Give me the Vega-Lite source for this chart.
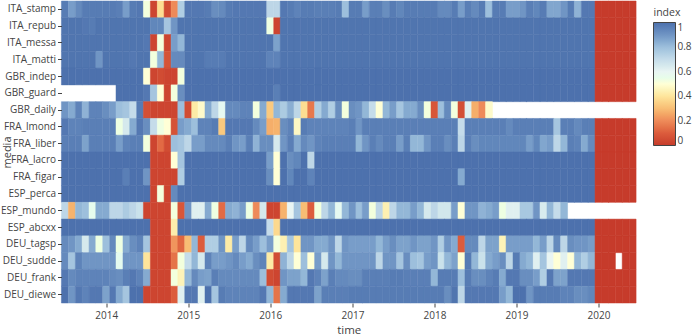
{"$schema":"https://vega.github.io/schema/vega-lite/v6.json","width":574.5,"height":302,"autosize":{"type":"none"},"padding":{"left":61.5,"top":1,"right":58,"bottom":33},"background":"white","config":{"view":{"stroke":null},"font":"Open Sans"},"data":{"values":[
{"media":"ITA_stamp","time":"2013-07","index":0.97},{"media":"ITA_stamp","time":"2013-08","index":0.88},{"media":"ITA_stamp","time":"2013-09","index":0.93},{"media":"ITA_stamp","time":"2013-10","index":0.97},{"media":"ITA_stamp","time":"2013-11","index":0.97},{"media":"ITA_stamp","time":"2013-12","index":0.97},{"media":"ITA_stamp","time":"2014-01","index":0.97},{"media":"ITA_stamp","time":"2014-02","index":0.97},{"media":"ITA_stamp","time":"2014-03","index":0.96},{"media":"ITA_stamp","time":"2014-04","index":0.88},{"media":"ITA_stamp","time":"2014-05","index":0.97},{"media":"ITA_stamp","time":"2014-06","index":0.98},{"media":"ITA_stamp","time":"2014-07","index":0.52},{"media":"ITA_stamp","time":"2014-08","index":0.03},{"media":"ITA_stamp","time":"2014-09","index":0.38},{"media":"ITA_stamp","time":"2014-10","index":0.05},{"media":"ITA_stamp","time":"2014-11","index":0.2},{"media":"ITA_stamp","time":"2014-12","index":0.75},{"media":"ITA_stamp","time":"2015-01","index":0.98},{"media":"ITA_stamp","time":"2015-02","index":0.98},{"media":"ITA_stamp","time":"2015-03","index":0.98},{"media":"ITA_stamp","time":"2015-04","index":0.97},{"media":"ITA_stamp","time":"2015-05","index":0.92},{"media":"ITA_stamp","time":"2015-06","index":0.93},{"media":"ITA_stamp","time":"2015-07","index":0.97},{"media":"ITA_stamp","time":"2015-08","index":0.98},{"media":"ITA_stamp","time":"2015-09","index":0.98},{"media":"ITA_stamp","time":"2015-10","index":0.98},{"media":"ITA_stamp","time":"2015-11","index":0.98},{"media":"ITA_stamp","time":"2015-12","index":0.98},{"media":"ITA_stamp","time":"2016-01","index":0.72},{"media":"ITA_stamp","time":"2016-02","index":0.72},{"media":"ITA_stamp","time":"2016-03","index":0.98},{"media":"ITA_stamp","time":"2016-04","index":0.97},{"media":"ITA_stamp","time":"2016-05","index":0.95},{"media":"ITA_stamp","time":"2016-06","index":0.97},{"media":"ITA_stamp","time":"2016-07","index":0.97},{"media":"ITA_stamp","time":"2016-08","index":0.96},{"media":"ITA_stamp","time":"2016-09","index":0.96},{"media":"ITA_stamp","time":"2016-10","index":0.96},{"media":"ITA_stamp","time":"2016-11","index":0.97},{"media":"ITA_stamp","time":"2016-12","index":0.8},{"media":"ITA_stamp","time":"2017-01","index":0.97},{"media":"ITA_stamp","time":"2017-02","index":0.97},{"media":"ITA_stamp","time":"2017-03","index":0.88},{"media":"ITA_stamp","time":"2017-04","index":0.96},{"media":"ITA_stamp","time":"2017-05","index":0.96},{"media":"ITA_stamp","time":"2017-06","index":0.92},{"media":"ITA_stamp","time":"2017-07","index":0.97},{"media":"ITA_stamp","time":"2017-08","index":0.94},{"media":"ITA_stamp","time":"2017-09","index":0.97},{"media":"ITA_stamp","time":"2017-10","index":0.97},{"media":"ITA_stamp","time":"2017-11","index":0.97},{"media":"ITA_stamp","time":"2017-12","index":0.97},{"media":"ITA_stamp","time":"2018-01","index":0.97},{"media":"ITA_stamp","time":"2018-02","index":0.93},{"media":"ITA_stamp","time":"2018-03","index":0.93},{"media":"ITA_stamp","time":"2018-04","index":0.97},{"media":"ITA_stamp","time":"2018-05","index":0.88},{"media":"ITA_stamp","time":"2018-06","index":0.96},{"media":"ITA_stamp","time":"2018-07","index":0.93},{"media":"ITA_stamp","time":"2018-08","index":0.97},{"media":"ITA_stamp","time":"2018-09","index":0.8},{"media":"ITA_stamp","time":"2018-10","index":0.97},{"media":"ITA_stamp","time":"2018-11","index":0.97},{"media":"ITA_stamp","time":"2018-12","index":0.88},{"media":"ITA_stamp","time":"2019-01","index":0.88},{"media":"ITA_stamp","time":"2019-02","index":0.9},{"media":"ITA_stamp","time":"2019-03","index":0.96},{"media":"ITA_stamp","time":"2019-04","index":0.94},{"media":"ITA_stamp","time":"2019-05","index":0.97},{"media":"ITA_stamp","time":"2019-06","index":0.86},{"media":"ITA_stamp","time":"2019-07","index":0.86},{"media":"ITA_stamp","time":"2019-08","index":0.9},{"media":"ITA_stamp","time":"2019-09","index":0.97},{"media":"ITA_stamp","time":"2019-10","index":0.83},{"media":"ITA_stamp","time":"2019-11","index":0.98},{"media":"ITA_stamp","time":"2019-12","index":0.98},{"media":"ITA_stamp","time":"2020-01","index":0},{"media":"ITA_stamp","time":"2020-02","index":0},{"media":"ITA_stamp","time":"2020-03","index":0},{"media":"ITA_stamp","time":"2020-04","index":0},{"media":"ITA_stamp","time":"2020-05","index":0},{"media":"ITA_stamp","time":"2020-06","index":0},
{"media":"ITA_repub","time":"2013-07","index":0.99},{"media":"ITA_repub","time":"2013-08","index":0.99},{"media":"ITA_repub","time":"2013-09","index":0.99},{"media":"ITA_repub","time":"2013-10","index":0.98},{"media":"ITA_repub","time":"2013-11","index":0.97},{"media":"ITA_repub","time":"2013-12","index":0.99},{"media":"ITA_repub","time":"2014-01","index":0.99},{"media":"ITA_repub","time":"2014-02","index":0.99},{"media":"ITA_repub","time":"2014-03","index":0.99},{"media":"ITA_repub","time":"2014-04","index":0.99},{"media":"ITA_repub","time":"2014-05","index":0.99},{"media":"ITA_repub","time":"2014-06","index":0.99},{"media":"ITA_repub","time":"2014-07","index":0.99},{"media":"ITA_repub","time":"2014-08","index":0.94},{"media":"ITA_repub","time":"2014-09","index":0.94},{"media":"ITA_repub","time":"2014-10","index":0.78},{"media":"ITA_repub","time":"2014-11","index":0.9},{"media":"ITA_repub","time":"2014-12","index":0.99},{"media":"ITA_repub","time":"2015-01","index":0.99},{"media":"ITA_repub","time":"2015-02","index":0.99},{"media":"ITA_repub","time":"2015-03","index":0.99},{"media":"ITA_repub","time":"2015-04","index":0.99},{"media":"ITA_repub","time":"2015-05","index":0.99},{"media":"ITA_repub","time":"2015-06","index":0.99},{"media":"ITA_repub","time":"2015-07","index":0.99},{"media":"ITA_repub","time":"2015-08","index":0.99},{"media":"ITA_repub","time":"2015-09","index":0.99},{"media":"ITA_repub","time":"2015-10","index":0.99},{"media":"ITA_repub","time":"2015-11","index":0.99},{"media":"ITA_repub","time":"2015-12","index":0.99},{"media":"ITA_repub","time":"2016-01","index":0.53},{"media":"ITA_repub","time":"2016-02","index":0.03},{"media":"ITA_repub","time":"2016-03","index":0.99},{"media":"ITA_repub","time":"2016-04","index":0.99},{"media":"ITA_repub","time":"2016-05","index":0.99},{"media":"ITA_repub","time":"2016-06","index":0.99},{"media":"ITA_repub","time":"2016-07","index":0.99},{"media":"ITA_repub","time":"2016-08","index":0.99},{"media":"ITA_repub","time":"2016-09","index":0.99},{"media":"ITA_repub","time":"2016-10","index":0.99},{"media":"ITA_repub","time":"2016-11","index":0.99},{"media":"ITA_repub","time":"2016-12","index":0.99},{"media":"ITA_repub","time":"2017-01","index":0.99},{"media":"ITA_repub","time":"2017-02","index":0.99},{"media":"ITA_repub","time":"2017-03","index":0.99},{"media":"ITA_repub","time":"2017-04","index":0.99},{"media":"ITA_repub","time":"2017-05","index":0.99},{"media":"ITA_repub","time":"2017-06","index":0.99},{"media":"ITA_repub","time":"2017-07","index":0.99},{"media":"ITA_repub","time":"2017-08","index":0.99},{"media":"ITA_repub","time":"2017-09","index":0.99},{"media":"ITA_repub","time":"2017-10","index":0.99},{"media":"ITA_repub","time":"2017-11","index":0.99},{"media":"ITA_repub","time":"2017-12","index":0.99},{"media":"ITA_repub","time":"2018-01","index":0.99},{"media":"ITA_repub","time":"2018-02","index":0.99},{"media":"ITA_repub","time":"2018-03","index":0.99},{"media":"ITA_repub","time":"2018-04","index":0.99},{"media":"ITA_repub","time":"2018-05","index":0.99},{"media":"ITA_repub","time":"2018-06","index":0.99},{"media":"ITA_repub","time":"2018-07","index":0.99},{"media":"ITA_repub","time":"2018-08","index":0.99},{"media":"ITA_repub","time":"2018-09","index":0.99},{"media":"ITA_repub","time":"2018-10","index":0.99},{"media":"ITA_repub","time":"2018-11","index":0.99},{"media":"ITA_repub","time":"2018-12","index":0.99},{"media":"ITA_repub","time":"2019-01","index":0.99},{"media":"ITA_repub","time":"2019-02","index":0.99},{"media":"ITA_repub","time":"2019-03","index":0.99},{"media":"ITA_repub","time":"2019-04","index":0.99},{"media":"ITA_repub","time":"2019-05","index":0.99},{"media":"ITA_repub","time":"2019-06","index":0.99},{"media":"ITA_repub","time":"2019-07","index":0.99},{"media":"ITA_repub","time":"2019-08","index":0.99},{"media":"ITA_repub","time":"2019-09","index":0.99},{"media":"ITA_repub","time":"2019-10","index":0.99},{"media":"ITA_repub","time":"2019-11","index":0.99},{"media":"ITA_repub","time":"2019-12","index":0.99},{"media":"ITA_repub","time":"2020-01","index":0},{"media":"ITA_repub","time":"2020-02","index":0},{"media":"ITA_repub","time":"2020-03","index":0},{"media":"ITA_repub","time":"2020-04","index":0},{"media":"ITA_repub","time":"2020-05","index":0},{"media":"ITA_repub","time":"2020-06","index":0},
{"media":"ITA_messa","time":"2013-07","index":0.99},{"media":"ITA_messa","time":"2013-08","index":0.99},{"media":"ITA_messa","time":"2013-09","index":0.99},{"media":"ITA_messa","time":"2013-10","index":0.99},{"media":"ITA_messa","time":"2013-11","index":0.99},{"media":"ITA_messa","time":"2013-12","index":0.99},{"media":"ITA_messa","time":"2014-01","index":0.99},{"media":"ITA_messa","time":"2014-02","index":0.99},{"media":"ITA_messa","time":"2014-03","index":0.99},{"media":"ITA_messa","time":"2014-04","index":0.99},{"media":"ITA_messa","time":"2014-05","index":0.99},{"media":"ITA_messa","time":"2014-06","index":0.99},{"media":"ITA_messa","time":"2014-07","index":0.98},{"media":"ITA_messa","time":"2014-08","index":0.03},{"media":"ITA_messa","time":"2014-09","index":0.52},{"media":"ITA_messa","time":"2014-10","index":0.03},{"media":"ITA_messa","time":"2014-11","index":0.88},{"media":"ITA_messa","time":"2014-12","index":0.82},{"media":"ITA_messa","time":"2015-01","index":0.99},{"media":"ITA_messa","time":"2015-02","index":0.99},{"media":"ITA_messa","time":"2015-03","index":0.99},{"media":"ITA_messa","time":"2015-04","index":0.99},{"media":"ITA_messa","time":"2015-05","index":0.99},{"media":"ITA_messa","time":"2015-06","index":0.99},{"media":"ITA_messa","time":"2015-07","index":0.99},{"media":"ITA_messa","time":"2015-08","index":0.99},{"media":"ITA_messa","time":"2015-09","index":0.99},{"media":"ITA_messa","time":"2015-10","index":0.99},{"media":"ITA_messa","time":"2015-11","index":0.99},{"media":"ITA_messa","time":"2015-12","index":0.99},{"media":"ITA_messa","time":"2016-01","index":0.99},{"media":"ITA_messa","time":"2016-02","index":0.87},{"media":"ITA_messa","time":"2016-03","index":0.99},{"media":"ITA_messa","time":"2016-04","index":0.99},{"media":"ITA_messa","time":"2016-05","index":0.99},{"media":"ITA_messa","time":"2016-06","index":0.99},{"media":"ITA_messa","time":"2016-07","index":0.99},{"media":"ITA_messa","time":"2016-08","index":0.99},{"media":"ITA_messa","time":"2016-09","index":0.99},{"media":"ITA_messa","time":"2016-10","index":0.99},{"media":"ITA_messa","time":"2016-11","index":0.99},{"media":"ITA_messa","time":"2016-12","index":0.99},{"media":"ITA_messa","time":"2017-01","index":0.99},{"media":"ITA_messa","time":"2017-02","index":0.99},{"media":"ITA_messa","time":"2017-03","index":0.99},{"media":"ITA_messa","time":"2017-04","index":0.99},{"media":"ITA_messa","time":"2017-05","index":0.99},{"media":"ITA_messa","time":"2017-06","index":0.99},{"media":"ITA_messa","time":"2017-07","index":0.99},{"media":"ITA_messa","time":"2017-08","index":0.99},{"media":"ITA_messa","time":"2017-09","index":0.99},{"media":"ITA_messa","time":"2017-10","index":0.99},{"media":"ITA_messa","time":"2017-11","index":0.99},{"media":"ITA_messa","time":"2017-12","index":0.99},{"media":"ITA_messa","time":"2018-01","index":0.99},{"media":"ITA_messa","time":"2018-02","index":0.99},{"media":"ITA_messa","time":"2018-03","index":0.99},{"media":"ITA_messa","time":"2018-04","index":0.99},{"media":"ITA_messa","time":"2018-05","index":0.99},{"media":"ITA_messa","time":"2018-06","index":0.99},{"media":"ITA_messa","time":"2018-07","index":0.99},{"media":"ITA_messa","time":"2018-08","index":0.99},{"media":"ITA_messa","time":"2018-09","index":0.99},{"media":"ITA_messa","time":"2018-10","index":0.99},{"media":"ITA_messa","time":"2018-11","index":0.99},{"media":"ITA_messa","time":"2018-12","index":0.99},{"media":"ITA_messa","time":"2019-01","index":0.99},{"media":"ITA_messa","time":"2019-02","index":0.99},{"media":"ITA_messa","time":"2019-03","index":0.99},{"media":"ITA_messa","time":"2019-04","index":0.99},{"media":"ITA_messa","time":"2019-05","index":0.99},{"media":"ITA_messa","time":"2019-06","index":0.99},{"media":"ITA_messa","time":"2019-07","index":0.99},{"media":"ITA_messa","time":"2019-08","index":0.99},{"media":"ITA_messa","time":"2019-09","index":0.99},{"media":"ITA_messa","time":"2019-10","index":0.99},{"media":"ITA_messa","time":"2019-11","index":0.99},{"media":"ITA_messa","time":"2019-12","index":0.99},{"media":"ITA_messa","time":"2020-01","index":0},{"media":"ITA_messa","time":"2020-02","index":0},{"media":"ITA_messa","time":"2020-03","index":0},{"media":"ITA_messa","time":"2020-04","index":0},{"media":"ITA_messa","time":"2020-05","index":0},{"media":"ITA_messa","time":"2020-06","index":0},
{"media":"ITA_matti","time":"2013-07","index":0.99},{"media":"ITA_matti","time":"2013-08","index":0.99},{"media":"ITA_matti","time":"2013-09","index":0.99},{"media":"ITA_matti","time":"2013-10","index":0.99},{"media":"ITA_matti","time":"2013-11","index":0.99},{"media":"ITA_matti","time":"2013-12","index":0.9},{"media":"ITA_matti","time":"2014-01","index":0.99},{"media":"ITA_matti","time":"2014-02","index":0.99},{"media":"ITA_matti","time":"2014-03","index":0.99},{"media":"ITA_matti","time":"2014-04","index":0.99},{"media":"ITA_matti","time":"2014-05","index":0.98},{"media":"ITA_matti","time":"2014-06","index":0.99},{"media":"ITA_matti","time":"2014-07","index":0.99},{"media":"ITA_matti","time":"2014-08","index":0.52},{"media":"ITA_matti","time":"2014-09","index":0.82},{"media":"ITA_matti","time":"2014-10","index":0.07},{"media":"ITA_matti","time":"2014-11","index":0.93},{"media":"ITA_matti","time":"2014-12","index":0.93},{"media":"ITA_matti","time":"2015-01","index":0.99},{"media":"ITA_matti","time":"2015-02","index":0.99},{"media":"ITA_matti","time":"2015-03","index":0.99},{"media":"ITA_matti","time":"2015-04","index":0.97},{"media":"ITA_matti","time":"2015-05","index":0.97},{"media":"ITA_matti","time":"2015-06","index":0.97},{"media":"ITA_matti","time":"2015-07","index":0.99},{"media":"ITA_matti","time":"2015-08","index":0.99},{"media":"ITA_matti","time":"2015-09","index":0.99},{"media":"ITA_matti","time":"2015-10","index":0.99},{"media":"ITA_matti","time":"2015-11","index":0.99},{"media":"ITA_matti","time":"2015-12","index":0.99},{"media":"ITA_matti","time":"2016-01","index":0.95},{"media":"ITA_matti","time":"2016-02","index":0.95},{"media":"ITA_matti","time":"2016-03","index":0.99},{"media":"ITA_matti","time":"2016-04","index":0.99},{"media":"ITA_matti","time":"2016-05","index":0.99},{"media":"ITA_matti","time":"2016-06","index":0.99},{"media":"ITA_matti","time":"2016-07","index":0.99},{"media":"ITA_matti","time":"2016-08","index":0.99},{"media":"ITA_matti","time":"2016-09","index":0.99},{"media":"ITA_matti","time":"2016-10","index":0.99},{"media":"ITA_matti","time":"2016-11","index":0.99},{"media":"ITA_matti","time":"2016-12","index":0.99},{"media":"ITA_matti","time":"2017-01","index":0.99},{"media":"ITA_matti","time":"2017-02","index":0.99},{"media":"ITA_matti","time":"2017-03","index":0.99},{"media":"ITA_matti","time":"2017-04","index":0.99},{"media":"ITA_matti","time":"2017-05","index":0.99},{"media":"ITA_matti","time":"2017-06","index":0.99},{"media":"ITA_matti","time":"2017-07","index":0.99},{"media":"ITA_matti","time":"2017-08","index":0.99},{"media":"ITA_matti","time":"2017-09","index":0.99},{"media":"ITA_matti","time":"2017-10","index":0.99},{"media":"ITA_matti","time":"2017-11","index":0.99},{"media":"ITA_matti","time":"2017-12","index":0.99},{"media":"ITA_matti","time":"2018-01","index":0.99},{"media":"ITA_matti","time":"2018-02","index":0.99},{"media":"ITA_matti","time":"2018-03","index":0.99},{"media":"ITA_matti","time":"2018-04","index":0.99},{"media":"ITA_matti","time":"2018-05","index":0.99},{"media":"ITA_matti","time":"2018-06","index":0.99},{"media":"ITA_matti","time":"2018-07","index":0.99},{"media":"ITA_matti","time":"2018-08","index":0.99},{"media":"ITA_matti","time":"2018-09","index":0.99},{"media":"ITA_matti","time":"2018-10","index":0.99},{"media":"ITA_matti","time":"2018-11","index":0.99},{"media":"ITA_matti","time":"2018-12","index":0.99},{"media":"ITA_matti","time":"2019-01","index":0.99},{"media":"ITA_matti","time":"2019-02","index":0.99},{"media":"ITA_matti","time":"2019-03","index":0.99},{"media":"ITA_matti","time":"2019-04","index":0.99},{"media":"ITA_matti","time":"2019-05","index":0.99},{"media":"ITA_matti","time":"2019-06","index":0.99},{"media":"ITA_matti","time":"2019-07","index":0.99},{"media":"ITA_matti","time":"2019-08","index":0.99},{"media":"ITA_matti","time":"2019-09","index":0.99},{"media":"ITA_matti","time":"2019-10","index":0.99},{"media":"ITA_matti","time":"2019-11","index":0.99},{"media":"ITA_matti","time":"2019-12","index":0.99},{"media":"ITA_matti","time":"2020-01","index":0},{"media":"ITA_matti","time":"2020-02","index":0},{"media":"ITA_matti","time":"2020-03","index":0},{"media":"ITA_matti","time":"2020-04","index":0},{"media":"ITA_matti","time":"2020-05","index":0},{"media":"ITA_matti","time":"2020-06","index":0},
{"media":"GBR_indep","time":"2013-07","index":1},{"media":"GBR_indep","time":"2013-08","index":1},{"media":"GBR_indep","time":"2013-09","index":1},{"media":"GBR_indep","time":"2013-10","index":1},{"media":"GBR_indep","time":"2013-11","index":1},{"media":"GBR_indep","time":"2013-12","index":1},{"media":"GBR_indep","time":"2014-01","index":1},{"media":"GBR_indep","time":"2014-02","index":1},{"media":"GBR_indep","time":"2014-03","index":1},{"media":"GBR_indep","time":"2014-04","index":1},{"media":"GBR_indep","time":"2014-05","index":1},{"media":"GBR_indep","time":"2014-06","index":1},{"media":"GBR_indep","time":"2014-07","index":0.5},{"media":"GBR_indep","time":"2014-08","index":0.03},{"media":"GBR_indep","time":"2014-09","index":0.05},{"media":"GBR_indep","time":"2014-10","index":0.03},{"media":"GBR_indep","time":"2014-11","index":0.03},{"media":"GBR_indep","time":"2014-12","index":0.52},{"media":"GBR_indep","time":"2015-01","index":1},{"media":"GBR_indep","time":"2015-02","index":1},{"media":"GBR_indep","time":"2015-03","index":1},{"media":"GBR_indep","time":"2015-04","index":1},{"media":"GBR_indep","time":"2015-05","index":1},{"media":"GBR_indep","time":"2015-06","index":1},{"media":"GBR_indep","time":"2015-07","index":1},{"media":"GBR_indep","time":"2015-08","index":1},{"media":"GBR_indep","time":"2015-09","index":1},{"media":"GBR_indep","time":"2015-10","index":1},{"media":"GBR_indep","time":"2015-11","index":1},{"media":"GBR_indep","time":"2015-12","index":1},{"media":"GBR_indep","time":"2016-01","index":1},{"media":"GBR_indep","time":"2016-02","index":1},{"media":"GBR_indep","time":"2016-03","index":1},{"media":"GBR_indep","time":"2016-04","index":1},{"media":"GBR_indep","time":"2016-05","index":1},{"media":"GBR_indep","time":"2016-06","index":1},{"media":"GBR_indep","time":"2016-07","index":1},{"media":"GBR_indep","time":"2016-08","index":1},{"media":"GBR_indep","time":"2016-09","index":1},{"media":"GBR_indep","time":"2016-10","index":1},{"media":"GBR_indep","time":"2016-11","index":1},{"media":"GBR_indep","time":"2016-12","index":1},{"media":"GBR_indep","time":"2017-01","index":1},{"media":"GBR_indep","time":"2017-02","index":1},{"media":"GBR_indep","time":"2017-03","index":1},{"media":"GBR_indep","time":"2017-04","index":1},{"media":"GBR_indep","time":"2017-05","index":1},{"media":"GBR_indep","time":"2017-06","index":1},{"media":"GBR_indep","time":"2017-07","index":1},{"media":"GBR_indep","time":"2017-08","index":1},{"media":"GBR_indep","time":"2017-09","index":1},{"media":"GBR_indep","time":"2017-10","index":1},{"media":"GBR_indep","time":"2017-11","index":1},{"media":"GBR_indep","time":"2017-12","index":1},{"media":"GBR_indep","time":"2018-01","index":1},{"media":"GBR_indep","time":"2018-02","index":1},{"media":"GBR_indep","time":"2018-03","index":1},{"media":"GBR_indep","time":"2018-04","index":1},{"media":"GBR_indep","time":"2018-05","index":1},{"media":"GBR_indep","time":"2018-06","index":1},{"media":"GBR_indep","time":"2018-07","index":1},{"media":"GBR_indep","time":"2018-08","index":1},{"media":"GBR_indep","time":"2018-09","index":1},{"media":"GBR_indep","time":"2018-10","index":1},{"media":"GBR_indep","time":"2018-11","index":1},{"media":"GBR_indep","time":"2018-12","index":1},{"media":"GBR_indep","time":"2019-01","index":1},{"media":"GBR_indep","time":"2019-02","index":1},{"media":"GBR_indep","time":"2019-03","index":1},{"media":"GBR_indep","time":"2019-04","index":1},{"media":"GBR_indep","time":"2019-05","index":1},{"media":"GBR_indep","time":"2019-06","index":1},{"media":"GBR_indep","time":"2019-07","index":1},{"media":"GBR_indep","time":"2019-08","index":1},{"media":"GBR_indep","time":"2019-09","index":1},{"media":"GBR_indep","time":"2019-10","index":1},{"media":"GBR_indep","time":"2019-11","index":1},{"media":"GBR_indep","time":"2019-12","index":1},{"media":"GBR_indep","time":"2020-01","index":0},{"media":"GBR_indep","time":"2020-02","index":0},{"media":"GBR_indep","time":"2020-03","index":0},{"media":"GBR_indep","time":"2020-04","index":0},{"media":"GBR_indep","time":"2020-05","index":0},{"media":"GBR_indep","time":"2020-06","index":0},
{"media":"GBR_guard","time":"2014-03","index":1},{"media":"GBR_guard","time":"2014-04","index":1},{"media":"GBR_guard","time":"2014-05","index":1},{"media":"GBR_guard","time":"2014-06","index":1},{"media":"GBR_guard","time":"2014-07","index":0.98},{"media":"GBR_guard","time":"2014-08","index":0.78},{"media":"GBR_guard","time":"2014-09","index":0.5},{"media":"GBR_guard","time":"2014-10","index":0.03},{"media":"GBR_guard","time":"2014-11","index":0.52},{"media":"GBR_guard","time":"2014-12","index":0.92},{"media":"GBR_guard","time":"2015-01","index":1},{"media":"GBR_guard","time":"2015-02","index":1},{"media":"GBR_guard","time":"2015-03","index":1},{"media":"GBR_guard","time":"2015-04","index":1},{"media":"GBR_guard","time":"2015-05","index":1},{"media":"GBR_guard","time":"2015-06","index":1},{"media":"GBR_guard","time":"2015-07","index":1},{"media":"GBR_guard","time":"2015-08","index":1},{"media":"GBR_guard","time":"2015-09","index":1},{"media":"GBR_guard","time":"2015-10","index":1},{"media":"GBR_guard","time":"2015-11","index":1},{"media":"GBR_guard","time":"2015-12","index":1},{"media":"GBR_guard","time":"2016-01","index":1},{"media":"GBR_guard","time":"2016-02","index":0.96},{"media":"GBR_guard","time":"2016-03","index":1},{"media":"GBR_guard","time":"2016-04","index":1},{"media":"GBR_guard","time":"2016-05","index":1},{"media":"GBR_guard","time":"2016-06","index":1},{"media":"GBR_guard","time":"2016-07","index":1},{"media":"GBR_guard","time":"2016-08","index":1},{"media":"GBR_guard","time":"2016-09","index":1},{"media":"GBR_guard","time":"2016-10","index":1},{"media":"GBR_guard","time":"2016-11","index":1},{"media":"GBR_guard","time":"2016-12","index":1},{"media":"GBR_guard","time":"2017-01","index":1},{"media":"GBR_guard","time":"2017-02","index":1},{"media":"GBR_guard","time":"2017-03","index":1},{"media":"GBR_guard","time":"2017-04","index":1},{"media":"GBR_guard","time":"2017-05","index":1},{"media":"GBR_guard","time":"2017-06","index":1},{"media":"GBR_guard","time":"2017-07","index":1},{"media":"GBR_guard","time":"2017-08","index":1},{"media":"GBR_guard","time":"2017-09","index":1},{"media":"GBR_guard","time":"2017-10","index":1},{"media":"GBR_guard","time":"2017-11","index":1},{"media":"GBR_guard","time":"2017-12","index":1},{"media":"GBR_guard","time":"2018-01","index":1},{"media":"GBR_guard","time":"2018-02","index":1},{"media":"GBR_guard","time":"2018-03","index":1},{"media":"GBR_guard","time":"2018-04","index":1},{"media":"GBR_guard","time":"2018-05","index":1},{"media":"GBR_guard","time":"2018-06","index":1},{"media":"GBR_guard","time":"2018-07","index":1},{"media":"GBR_guard","time":"2018-08","index":1},{"media":"GBR_guard","time":"2018-09","index":1},{"media":"GBR_guard","time":"2018-10","index":1},{"media":"GBR_guard","time":"2018-11","index":1},{"media":"GBR_guard","time":"2018-12","index":1},{"media":"GBR_guard","time":"2019-01","index":1},{"media":"GBR_guard","time":"2019-02","index":1},{"media":"GBR_guard","time":"2019-03","index":1},{"media":"GBR_guard","time":"2019-04","index":1},{"media":"GBR_guard","time":"2019-05","index":1},{"media":"GBR_guard","time":"2019-06","index":1},{"media":"GBR_guard","time":"2019-07","index":1},{"media":"GBR_guard","time":"2019-08","index":1},{"media":"GBR_guard","time":"2019-09","index":1},{"media":"GBR_guard","time":"2019-10","index":1},{"media":"GBR_guard","time":"2019-11","index":1},{"media":"GBR_guard","time":"2019-12","index":1},{"media":"GBR_guard","time":"2020-01","index":0},{"media":"GBR_guard","time":"2020-02","index":0},{"media":"GBR_guard","time":"2020-03","index":0},{"media":"GBR_guard","time":"2020-04","index":0},{"media":"GBR_guard","time":"2020-05","index":0},{"media":"GBR_guard","time":"2020-06","index":0},
{"media":"GBR_daily","time":"2013-07","index":0.9},{"media":"GBR_daily","time":"2013-08","index":0.85},{"media":"GBR_daily","time":"2013-09","index":0.95},{"media":"GBR_daily","time":"2013-10","index":0.83},{"media":"GBR_daily","time":"2013-11","index":0.95},{"media":"GBR_daily","time":"2013-12","index":0.95},{"media":"GBR_daily","time":"2014-01","index":0.92},{"media":"GBR_daily","time":"2014-02","index":0.88},{"media":"GBR_daily","time":"2014-03","index":0.8},{"media":"GBR_daily","time":"2014-04","index":0.78},{"media":"GBR_daily","time":"2014-05","index":0.7},{"media":"GBR_daily","time":"2014-06","index":0.97},{"media":"GBR_daily","time":"2014-07","index":0.06},{"media":"GBR_daily","time":"2014-08","index":0.03},{"media":"GBR_daily","time":"2014-09","index":0.03},{"media":"GBR_daily","time":"2014-10","index":0.03},{"media":"GBR_daily","time":"2014-11","index":0.03},{"media":"GBR_daily","time":"2014-12","index":0.8},{"media":"GBR_daily","time":"2015-01","index":0.05},{"media":"GBR_daily","time":"2015-02","index":0.42},{"media":"GBR_daily","time":"2015-03","index":0.48},{"media":"GBR_daily","time":"2015-04","index":0.85},{"media":"GBR_daily","time":"2015-05","index":0.72},{"media":"GBR_daily","time":"2015-06","index":0.58},{"media":"GBR_daily","time":"2015-07","index":0.93},{"media":"GBR_daily","time":"2015-08","index":0.93},{"media":"GBR_daily","time":"2015-09","index":0.95},{"media":"GBR_daily","time":"2015-10","index":0.95},{"media":"GBR_daily","time":"2015-11","index":0.52},{"media":"GBR_daily","time":"2015-12","index":0.85},{"media":"GBR_daily","time":"2016-01","index":0.33},{"media":"GBR_daily","time":"2016-02","index":0.82},{"media":"GBR_daily","time":"2016-03","index":0.76},{"media":"GBR_daily","time":"2016-04","index":0.84},{"media":"GBR_daily","time":"2016-05","index":0.72},{"media":"GBR_daily","time":"2016-06","index":0.38},{"media":"GBR_daily","time":"2016-07","index":0.16},{"media":"GBR_daily","time":"2016-08","index":0.75},{"media":"GBR_daily","time":"2016-09","index":0.85},{"media":"GBR_daily","time":"2016-10","index":0.75},{"media":"GBR_daily","time":"2016-11","index":0.92},{"media":"GBR_daily","time":"2016-12","index":0.52},{"media":"GBR_daily","time":"2017-01","index":0.92},{"media":"GBR_daily","time":"2017-02","index":0.9},{"media":"GBR_daily","time":"2017-03","index":0.82},{"media":"GBR_daily","time":"2017-04","index":0.7},{"media":"GBR_daily","time":"2017-05","index":0.5},{"media":"GBR_daily","time":"2017-06","index":0.82},{"media":"GBR_daily","time":"2017-07","index":0.88},{"media":"GBR_daily","time":"2017-08","index":0.78},{"media":"GBR_daily","time":"2017-09","index":0.85},{"media":"GBR_daily","time":"2017-10","index":0.85},{"media":"GBR_daily","time":"2017-11","index":0.92},{"media":"GBR_daily","time":"2017-12","index":0.52},{"media":"GBR_daily","time":"2018-01","index":0.08},{"media":"GBR_daily","time":"2018-02","index":0.8},{"media":"GBR_daily","time":"2018-03","index":0.93},{"media":"GBR_daily","time":"2018-04","index":0.52},{"media":"GBR_daily","time":"2018-05","index":0.06},{"media":"GBR_daily","time":"2018-06","index":0.62},{"media":"GBR_daily","time":"2018-07","index":0.27},{"media":"GBR_daily","time":"2018-08","index":0.2},{"media":"GBR_daily","time":"2018-09","index":0.48},
{"media":"FRA_lmond","time":"2013-07","index":0.98},{"media":"FRA_lmond","time":"2013-08","index":0.95},{"media":"FRA_lmond","time":"2013-09","index":0.95},{"media":"FRA_lmond","time":"2013-10","index":0.96},{"media":"FRA_lmond","time":"2013-11","index":0.96},{"media":"FRA_lmond","time":"2013-12","index":0.96},{"media":"FRA_lmond","time":"2014-01","index":0.96},{"media":"FRA_lmond","time":"2014-02","index":0.96},{"media":"FRA_lmond","time":"2014-03","index":0.53},{"media":"FRA_lmond","time":"2014-04","index":0.65},{"media":"FRA_lmond","time":"2014-05","index":0.85},{"media":"FRA_lmond","time":"2014-06","index":0.98},{"media":"FRA_lmond","time":"2014-07","index":0.92},{"media":"FRA_lmond","time":"2014-08","index":0.7},{"media":"FRA_lmond","time":"2014-09","index":0.53},{"media":"FRA_lmond","time":"2014-10","index":0.5},{"media":"FRA_lmond","time":"2014-11","index":0.07},{"media":"FRA_lmond","time":"2014-12","index":0.88},{"media":"FRA_lmond","time":"2015-01","index":0.85},{"media":"FRA_lmond","time":"2015-02","index":0.8},{"media":"FRA_lmond","time":"2015-03","index":0.95},{"media":"FRA_lmond","time":"2015-04","index":0.95},{"media":"FRA_lmond","time":"2015-05","index":0.97},{"media":"FRA_lmond","time":"2015-06","index":0.33},{"media":"FRA_lmond","time":"2015-07","index":0.98},{"media":"FRA_lmond","time":"2015-08","index":0.98},{"media":"FRA_lmond","time":"2015-09","index":0.98},{"media":"FRA_lmond","time":"2015-10","index":0.98},{"media":"FRA_lmond","time":"2015-11","index":0.93},{"media":"FRA_lmond","time":"2015-12","index":0.88},{"media":"FRA_lmond","time":"2016-01","index":0.27},{"media":"FRA_lmond","time":"2016-02","index":0.28},{"media":"FRA_lmond","time":"2016-03","index":0.92},{"media":"FRA_lmond","time":"2016-04","index":0.95},{"media":"FRA_lmond","time":"2016-05","index":0.47},{"media":"FRA_lmond","time":"2016-06","index":0.97},{"media":"FRA_lmond","time":"2016-07","index":0.95},{"media":"FRA_lmond","time":"2016-08","index":0.95},{"media":"FRA_lmond","time":"2016-09","index":0.95},{"media":"FRA_lmond","time":"2016-10","index":0.95},{"media":"FRA_lmond","time":"2016-11","index":0.95},{"media":"FRA_lmond","time":"2016-12","index":0.95},{"media":"FRA_lmond","time":"2017-01","index":0.96},{"media":"FRA_lmond","time":"2017-02","index":0.9},{"media":"FRA_lmond","time":"2017-03","index":0.96},{"media":"FRA_lmond","time":"2017-04","index":0.96},{"media":"FRA_lmond","time":"2017-05","index":0.96},{"media":"FRA_lmond","time":"2017-06","index":0.96},{"media":"FRA_lmond","time":"2017-07","index":0.96},{"media":"FRA_lmond","time":"2017-08","index":0.96},{"media":"FRA_lmond","time":"2017-09","index":0.96},{"media":"FRA_lmond","time":"2017-10","index":0.96},{"media":"FRA_lmond","time":"2017-11","index":0.96},{"media":"FRA_lmond","time":"2017-12","index":0.96},{"media":"FRA_lmond","time":"2018-01","index":0.96},{"media":"FRA_lmond","time":"2018-02","index":0.96},{"media":"FRA_lmond","time":"2018-03","index":0.96},{"media":"FRA_lmond","time":"2018-04","index":0.96},{"media":"FRA_lmond","time":"2018-05","index":0.7},{"media":"FRA_lmond","time":"2018-06","index":0.96},{"media":"FRA_lmond","time":"2018-07","index":0.96},{"media":"FRA_lmond","time":"2018-08","index":0.96},{"media":"FRA_lmond","time":"2018-09","index":0.96},{"media":"FRA_lmond","time":"2018-10","index":0.96},{"media":"FRA_lmond","time":"2018-11","index":0.96},{"media":"FRA_lmond","time":"2018-12","index":0.93},{"media":"FRA_lmond","time":"2019-01","index":0.96},{"media":"FRA_lmond","time":"2019-02","index":0.96},{"media":"FRA_lmond","time":"2019-03","index":0.96},{"media":"FRA_lmond","time":"2019-04","index":0.96},{"media":"FRA_lmond","time":"2019-05","index":0.96},{"media":"FRA_lmond","time":"2019-06","index":0.96},{"media":"FRA_lmond","time":"2019-07","index":0.78},{"media":"FRA_lmond","time":"2019-08","index":0.96},{"media":"FRA_lmond","time":"2019-09","index":0.96},{"media":"FRA_lmond","time":"2019-10","index":0.93},{"media":"FRA_lmond","time":"2019-11","index":0.96},{"media":"FRA_lmond","time":"2019-12","index":0.96},{"media":"FRA_lmond","time":"2020-01","index":0},{"media":"FRA_lmond","time":"2020-02","index":0},{"media":"FRA_lmond","time":"2020-03","index":0},{"media":"FRA_lmond","time":"2020-04","index":0},{"media":"FRA_lmond","time":"2020-05","index":0},{"media":"FRA_lmond","time":"2020-06","index":0},
{"media":"FRA_liber","time":"2013-07","index":0.96},{"media":"FRA_liber","time":"2013-08","index":0.96},{"media":"FRA_liber","time":"2013-09","index":0.96},{"media":"FRA_liber","time":"2013-10","index":0.87},{"media":"FRA_liber","time":"2013-11","index":0.96},{"media":"FRA_liber","time":"2013-12","index":0.96},{"media":"FRA_liber","time":"2014-01","index":0.96},{"media":"FRA_liber","time":"2014-02","index":0.96},{"media":"FRA_liber","time":"2014-03","index":0.88},{"media":"FRA_liber","time":"2014-04","index":0.95},{"media":"FRA_liber","time":"2014-05","index":0.96},{"media":"FRA_liber","time":"2014-06","index":0.96},{"media":"FRA_liber","time":"2014-07","index":0.52},{"media":"FRA_liber","time":"2014-08","index":0.03},{"media":"FRA_liber","time":"2014-09","index":0.13},{"media":"FRA_liber","time":"2014-10","index":0.05},{"media":"FRA_liber","time":"2014-11","index":0.8},{"media":"FRA_liber","time":"2014-12","index":0.78},{"media":"FRA_liber","time":"2015-01","index":0.72},{"media":"FRA_liber","time":"2015-02","index":0.88},{"media":"FRA_liber","time":"2015-03","index":0.88},{"media":"FRA_liber","time":"2015-04","index":0.93},{"media":"FRA_liber","time":"2015-05","index":0.93},{"media":"FRA_liber","time":"2015-06","index":0.93},{"media":"FRA_liber","time":"2015-07","index":0.96},{"media":"FRA_liber","time":"2015-08","index":0.9},{"media":"FRA_liber","time":"2015-09","index":0.88},{"media":"FRA_liber","time":"2015-10","index":0.96},{"media":"FRA_liber","time":"2015-11","index":0.83},{"media":"FRA_liber","time":"2015-12","index":0.92},{"media":"FRA_liber","time":"2016-01","index":0.92},{"media":"FRA_liber","time":"2016-02","index":0.65},{"media":"FRA_liber","time":"2016-03","index":0.9},{"media":"FRA_liber","time":"2016-04","index":0.96},{"media":"FRA_liber","time":"2016-05","index":0.85},{"media":"FRA_liber","time":"2016-06","index":0.93},{"media":"FRA_liber","time":"2016-07","index":0.9},{"media":"FRA_liber","time":"2016-08","index":0.95},{"media":"FRA_liber","time":"2016-09","index":0.96},{"media":"FRA_liber","time":"2016-10","index":0.96},{"media":"FRA_liber","time":"2016-11","index":0.96},{"media":"FRA_liber","time":"2016-12","index":0.96},{"media":"FRA_liber","time":"2017-01","index":0.96},{"media":"FRA_liber","time":"2017-02","index":0.82},{"media":"FRA_liber","time":"2017-03","index":0.9},{"media":"FRA_liber","time":"2017-04","index":0.96},{"media":"FRA_liber","time":"2017-05","index":0.93},{"media":"FRA_liber","time":"2017-06","index":0.96},{"media":"FRA_liber","time":"2017-07","index":0.96},{"media":"FRA_liber","time":"2017-08","index":0.88},{"media":"FRA_liber","time":"2017-09","index":0.96},{"media":"FRA_liber","time":"2017-10","index":0.82},{"media":"FRA_liber","time":"2017-11","index":0.82},{"media":"FRA_liber","time":"2017-12","index":0.9},{"media":"FRA_liber","time":"2018-01","index":0.96},{"media":"FRA_liber","time":"2018-02","index":0.96},{"media":"FRA_liber","time":"2018-03","index":0.92},{"media":"FRA_liber","time":"2018-04","index":0.96},{"media":"FRA_liber","time":"2018-05","index":0.72},{"media":"FRA_liber","time":"2018-06","index":0.96},{"media":"FRA_liber","time":"2018-07","index":0.92},{"media":"FRA_liber","time":"2018-08","index":0.94},{"media":"FRA_liber","time":"2018-09","index":0.94},{"media":"FRA_liber","time":"2018-10","index":0.94},{"media":"FRA_liber","time":"2018-11","index":0.94},{"media":"FRA_liber","time":"2018-12","index":0.94},{"media":"FRA_liber","time":"2019-01","index":0.94},{"media":"FRA_liber","time":"2019-02","index":0.94},{"media":"FRA_liber","time":"2019-03","index":0.88},{"media":"FRA_liber","time":"2019-04","index":0.94},{"media":"FRA_liber","time":"2019-05","index":0.86},{"media":"FRA_liber","time":"2019-06","index":0.88},{"media":"FRA_liber","time":"2019-07","index":0.72},{"media":"FRA_liber","time":"2019-08","index":0.82},{"media":"FRA_liber","time":"2019-09","index":0.96},{"media":"FRA_liber","time":"2019-10","index":0.95},{"media":"FRA_liber","time":"2019-11","index":0.85},{"media":"FRA_liber","time":"2019-12","index":0.93},{"media":"FRA_liber","time":"2020-01","index":0},{"media":"FRA_liber","time":"2020-02","index":0},{"media":"FRA_liber","time":"2020-03","index":0},{"media":"FRA_liber","time":"2020-04","index":0},{"media":"FRA_liber","time":"2020-05","index":0},{"media":"FRA_liber","time":"2020-06","index":0},
{"media":"FRA_lacro","time":"2013-07","index":1},{"media":"FRA_lacro","time":"2013-08","index":1},{"media":"FRA_lacro","time":"2013-09","index":1},{"media":"FRA_lacro","time":"2013-10","index":1},{"media":"FRA_lacro","time":"2013-11","index":1},{"media":"FRA_lacro","time":"2013-12","index":1},{"media":"FRA_lacro","time":"2014-01","index":1},{"media":"FRA_lacro","time":"2014-02","index":1},{"media":"FRA_lacro","time":"2014-03","index":1},{"media":"FRA_lacro","time":"2014-04","index":1},{"media":"FRA_lacro","time":"2014-05","index":1},{"media":"FRA_lacro","time":"2014-06","index":1},{"media":"FRA_lacro","time":"2014-07","index":1},{"media":"FRA_lacro","time":"2014-08","index":0.03},{"media":"FRA_lacro","time":"2014-09","index":0.03},{"media":"FRA_lacro","time":"2014-10","index":0.03},{"media":"FRA_lacro","time":"2014-11","index":0.5},{"media":"FRA_lacro","time":"2014-12","index":0.78},{"media":"FRA_lacro","time":"2015-01","index":1},{"media":"FRA_lacro","time":"2015-02","index":1},{"media":"FRA_lacro","time":"2015-03","index":1},{"media":"FRA_lacro","time":"2015-04","index":1},{"media":"FRA_lacro","time":"2015-05","index":1},{"media":"FRA_lacro","time":"2015-06","index":1},{"media":"FRA_lacro","time":"2015-07","index":1},{"media":"FRA_lacro","time":"2015-08","index":1},{"media":"FRA_lacro","time":"2015-09","index":1},{"media":"FRA_lacro","time":"2015-10","index":1},{"media":"FRA_lacro","time":"2015-11","index":1},{"media":"FRA_lacro","time":"2015-12","index":1},{"media":"FRA_lacro","time":"2016-01","index":0.88},{"media":"FRA_lacro","time":"2016-02","index":0.5},{"media":"FRA_lacro","time":"2016-03","index":1},{"media":"FRA_lacro","time":"2016-04","index":0.92},{"media":"FRA_lacro","time":"2016-05","index":0.94},{"media":"FRA_lacro","time":"2016-06","index":1},{"media":"FRA_lacro","time":"2016-07","index":0.72},{"media":"FRA_lacro","time":"2016-08","index":1},{"media":"FRA_lacro","time":"2016-09","index":1},{"media":"FRA_lacro","time":"2016-10","index":1},{"media":"FRA_lacro","time":"2016-11","index":1},{"media":"FRA_lacro","time":"2016-12","index":1},{"media":"FRA_lacro","time":"2017-01","index":1},{"media":"FRA_lacro","time":"2017-02","index":1},{"media":"FRA_lacro","time":"2017-03","index":1},{"media":"FRA_lacro","time":"2017-04","index":1},{"media":"FRA_lacro","time":"2017-05","index":1},{"media":"FRA_lacro","time":"2017-06","index":1},{"media":"FRA_lacro","time":"2017-07","index":1},{"media":"FRA_lacro","time":"2017-08","index":1},{"media":"FRA_lacro","time":"2017-09","index":1},{"media":"FRA_lacro","time":"2017-10","index":1},{"media":"FRA_lacro","time":"2017-11","index":1},{"media":"FRA_lacro","time":"2017-12","index":1},{"media":"FRA_lacro","time":"2018-01","index":1},{"media":"FRA_lacro","time":"2018-02","index":1},{"media":"FRA_lacro","time":"2018-03","index":1},{"media":"FRA_lacro","time":"2018-04","index":1},{"media":"FRA_lacro","time":"2018-05","index":1},{"media":"FRA_lacro","time":"2018-06","index":1},{"media":"FRA_lacro","time":"2018-07","index":1},{"media":"FRA_lacro","time":"2018-08","index":1},{"media":"FRA_lacro","time":"2018-09","index":1},{"media":"FRA_lacro","time":"2018-10","index":1},{"media":"FRA_lacro","time":"2018-11","index":1},{"media":"FRA_lacro","time":"2018-12","index":1},{"media":"FRA_lacro","time":"2019-01","index":1},{"media":"FRA_lacro","time":"2019-02","index":1},{"media":"FRA_lacro","time":"2019-03","index":1},{"media":"FRA_lacro","time":"2019-04","index":1},{"media":"FRA_lacro","time":"2019-05","index":1},{"media":"FRA_lacro","time":"2019-06","index":1},{"media":"FRA_lacro","time":"2019-07","index":1},{"media":"FRA_lacro","time":"2019-08","index":1},{"media":"FRA_lacro","time":"2019-09","index":1},{"media":"FRA_lacro","time":"2019-10","index":1},{"media":"FRA_lacro","time":"2019-11","index":1},{"media":"FRA_lacro","time":"2019-12","index":1},{"media":"FRA_lacro","time":"2020-01","index":0},{"media":"FRA_lacro","time":"2020-02","index":0},{"media":"FRA_lacro","time":"2020-03","index":0},{"media":"FRA_lacro","time":"2020-04","index":0},{"media":"FRA_lacro","time":"2020-05","index":0},{"media":"FRA_lacro","time":"2020-06","index":0},
{"media":"FRA_figar","time":"2013-07","index":1},{"media":"FRA_figar","time":"2013-08","index":1},{"media":"FRA_figar","time":"2013-09","index":1},{"media":"FRA_figar","time":"2013-10","index":1},{"media":"FRA_figar","time":"2013-11","index":1},{"media":"FRA_figar","time":"2013-12","index":1},{"media":"FRA_figar","time":"2014-01","index":1},{"media":"FRA_figar","time":"2014-02","index":1},{"media":"FRA_figar","time":"2014-03","index":1},{"media":"FRA_figar","time":"2014-04","index":0.96},{"media":"FRA_figar","time":"2014-05","index":1},{"media":"FRA_figar","time":"2014-06","index":1},{"media":"FRA_figar","time":"2014-07","index":0.9},{"media":"FRA_figar","time":"2014-08","index":0.03},{"media":"FRA_figar","time":"2014-09","index":0.03},{"media":"FRA_figar","time":"2014-10","index":0.03},{"media":"FRA_figar","time":"2014-11","index":0.03},{"media":"FRA_figar","time":"2014-12","index":0.75},{"media":"FRA_figar","time":"2015-01","index":1},{"media":"FRA_figar","time":"2015-02","index":1},{"media":"FRA_figar","time":"2015-03","index":1},{"media":"FRA_figar","time":"2015-04","index":1},{"media":"FRA_figar","time":"2015-05","index":1},{"media":"FRA_figar","time":"2015-06","index":1},{"media":"FRA_figar","time":"2015-07","index":1},{"media":"FRA_figar","time":"2015-08","index":1},{"media":"FRA_figar","time":"2015-09","index":1},{"media":"FRA_figar","time":"2015-10","index":1},{"media":"FRA_figar","time":"2015-11","index":1},{"media":"FRA_figar","time":"2015-12","index":1},{"media":"FRA_figar","time":"2016-01","index":0.92},{"media":"FRA_figar","time":"2016-02","index":0.5},{"media":"FRA_figar","time":"2016-03","index":1},{"media":"FRA_figar","time":"2016-04","index":0.94},{"media":"FRA_figar","time":"2016-05","index":1},{"media":"FRA_figar","time":"2016-06","index":1},{"media":"FRA_figar","time":"2016-07","index":0.95},{"media":"FRA_figar","time":"2016-08","index":1},{"media":"FRA_figar","time":"2016-09","index":1},{"media":"FRA_figar","time":"2016-10","index":1},{"media":"FRA_figar","time":"2016-11","index":1},{"media":"FRA_figar","time":"2016-12","index":1},{"media":"FRA_figar","time":"2017-01","index":1},{"media":"FRA_figar","time":"2017-02","index":1},{"media":"FRA_figar","time":"2017-03","index":1},{"media":"FRA_figar","time":"2017-04","index":1},{"media":"FRA_figar","time":"2017-05","index":1},{"media":"FRA_figar","time":"2017-06","index":1},{"media":"FRA_figar","time":"2017-07","index":1},{"media":"FRA_figar","time":"2017-08","index":1},{"media":"FRA_figar","time":"2017-09","index":1},{"media":"FRA_figar","time":"2017-10","index":1},{"media":"FRA_figar","time":"2017-11","index":1},{"media":"FRA_figar","time":"2017-12","index":1},{"media":"FRA_figar","time":"2018-01","index":1},{"media":"FRA_figar","time":"2018-02","index":1},{"media":"FRA_figar","time":"2018-03","index":1},{"media":"FRA_figar","time":"2018-04","index":1},{"media":"FRA_figar","time":"2018-05","index":0.85},{"media":"FRA_figar","time":"2018-06","index":1},{"media":"FRA_figar","time":"2018-07","index":1},{"media":"FRA_figar","time":"2018-08","index":1},{"media":"FRA_figar","time":"2018-09","index":1},{"media":"FRA_figar","time":"2018-10","index":1},{"media":"FRA_figar","time":"2018-11","index":1},{"media":"FRA_figar","time":"2018-12","index":1},{"media":"FRA_figar","time":"2019-01","index":1},{"media":"FRA_figar","time":"2019-02","index":1},{"media":"FRA_figar","time":"2019-03","index":1},{"media":"FRA_figar","time":"2019-04","index":1},{"media":"FRA_figar","time":"2019-05","index":1},{"media":"FRA_figar","time":"2019-06","index":1},{"media":"FRA_figar","time":"2019-07","index":1},{"media":"FRA_figar","time":"2019-08","index":1},{"media":"FRA_figar","time":"2019-09","index":1},{"media":"FRA_figar","time":"2019-10","index":1},{"media":"FRA_figar","time":"2019-11","index":1},{"media":"FRA_figar","time":"2019-12","index":1},{"media":"FRA_figar","time":"2020-01","index":0},{"media":"FRA_figar","time":"2020-02","index":0},{"media":"FRA_figar","time":"2020-03","index":0},{"media":"FRA_figar","time":"2020-04","index":0},{"media":"FRA_figar","time":"2020-05","index":0},{"media":"FRA_figar","time":"2020-06","index":0},
{"media":"ESP_perca","time":"2013-07","index":1},{"media":"ESP_perca","time":"2013-08","index":1},{"media":"ESP_perca","time":"2013-09","index":1},{"media":"ESP_perca","time":"2013-10","index":1},{"media":"ESP_perca","time":"2013-11","index":1},{"media":"ESP_perca","time":"2013-12","index":1},{"media":"ESP_perca","time":"2014-01","index":1},{"media":"ESP_perca","time":"2014-02","index":1},{"media":"ESP_perca","time":"2014-03","index":1},{"media":"ESP_perca","time":"2014-04","index":1},{"media":"ESP_perca","time":"2014-05","index":1},{"media":"ESP_perca","time":"2014-06","index":1},{"media":"ESP_perca","time":"2014-07","index":1},{"media":"ESP_perca","time":"2014-08","index":0.03},{"media":"ESP_perca","time":"2014-09","index":0.52},{"media":"ESP_perca","time":"2014-10","index":0.03},{"media":"ESP_perca","time":"2014-11","index":0.93},{"media":"ESP_perca","time":"2014-12","index":1},{"media":"ESP_perca","time":"2015-01","index":1},{"media":"ESP_perca","time":"2015-02","index":1},{"media":"ESP_perca","time":"2015-03","index":1},{"media":"ESP_perca","time":"2015-04","index":1},{"media":"ESP_perca","time":"2015-05","index":1},{"media":"ESP_perca","time":"2015-06","index":1},{"media":"ESP_perca","time":"2015-07","index":1},{"media":"ESP_perca","time":"2015-08","index":1},{"media":"ESP_perca","time":"2015-09","index":1},{"media":"ESP_perca","time":"2015-10","index":1},{"media":"ESP_perca","time":"2015-11","index":1},{"media":"ESP_perca","time":"2015-12","index":1},{"media":"ESP_perca","time":"2016-01","index":1},{"media":"ESP_perca","time":"2016-02","index":1},{"media":"ESP_perca","time":"2016-03","index":1},{"media":"ESP_perca","time":"2016-04","index":1},{"media":"ESP_perca","time":"2016-05","index":1},{"media":"ESP_perca","time":"2016-06","index":1},{"media":"ESP_perca","time":"2016-07","index":1},{"media":"ESP_perca","time":"2016-08","index":1},{"media":"ESP_perca","time":"2016-09","index":1},{"media":"ESP_perca","time":"2016-10","index":1},{"media":"ESP_perca","time":"2016-11","index":1},{"media":"ESP_perca","time":"2016-12","index":1},{"media":"ESP_perca","time":"2017-01","index":1},{"media":"ESP_perca","time":"2017-02","index":1},{"media":"ESP_perca","time":"2017-03","index":1},{"media":"ESP_perca","time":"2017-04","index":1},{"media":"ESP_perca","time":"2017-05","index":1},{"media":"ESP_perca","time":"2017-06","index":1},{"media":"ESP_perca","time":"2017-07","index":1},{"media":"ESP_perca","time":"2017-08","index":1},{"media":"ESP_perca","time":"2017-09","index":1},{"media":"ESP_perca","time":"2017-10","index":1},{"media":"ESP_perca","time":"2017-11","index":1},{"media":"ESP_perca","time":"2017-12","index":1},{"media":"ESP_perca","time":"2018-01","index":1},{"media":"ESP_perca","time":"2018-02","index":1},{"media":"ESP_perca","time":"2018-03","index":1},{"media":"ESP_perca","time":"2018-04","index":1},{"media":"ESP_perca","time":"2018-05","index":1},{"media":"ESP_perca","time":"2018-06","index":1},{"media":"ESP_perca","time":"2018-07","index":1},{"media":"ESP_perca","time":"2018-08","index":1},{"media":"ESP_perca","time":"2018-09","index":1},{"media":"ESP_perca","time":"2018-10","index":1},{"media":"ESP_perca","time":"2018-11","index":1},{"media":"ESP_perca","time":"2018-12","index":1},{"media":"ESP_perca","time":"2019-01","index":1},{"media":"ESP_perca","time":"2019-02","index":1},{"media":"ESP_perca","time":"2019-03","index":1},{"media":"ESP_perca","time":"2019-04","index":1},{"media":"ESP_perca","time":"2019-05","index":1},{"media":"ESP_perca","time":"2019-06","index":1},{"media":"ESP_perca","time":"2019-07","index":1},{"media":"ESP_perca","time":"2019-08","index":1},{"media":"ESP_perca","time":"2019-09","index":1},{"media":"ESP_perca","time":"2019-10","index":1},{"media":"ESP_perca","time":"2019-11","index":1},{"media":"ESP_perca","time":"2019-12","index":1},{"media":"ESP_perca","time":"2020-01","index":0},{"media":"ESP_perca","time":"2020-02","index":0},{"media":"ESP_perca","time":"2020-03","index":0},{"media":"ESP_perca","time":"2020-04","index":0},{"media":"ESP_perca","time":"2020-05","index":0},{"media":"ESP_perca","time":"2020-06","index":0},
{"media":"ESP_mundo","time":"2013-07","index":0.72},{"media":"ESP_mundo","time":"2013-08","index":0.28},{"media":"ESP_mundo","time":"2013-09","index":0.82},{"media":"ESP_mundo","time":"2013-10","index":0.8},{"media":"ESP_mundo","time":"2013-11","index":0.56},{"media":"ESP_mundo","time":"2013-12","index":0.85},{"media":"ESP_mundo","time":"2014-01","index":0.85},{"media":"ESP_mundo","time":"2014-02","index":0.72},{"media":"ESP_mundo","time":"2014-03","index":0.72},{"media":"ESP_mundo","time":"2014-04","index":0.76},{"media":"ESP_mundo","time":"2014-05","index":0.72},{"media":"ESP_mundo","time":"2014-06","index":0.68},{"media":"ESP_mundo","time":"2014-07","index":0.03},{"media":"ESP_mundo","time":"2014-08","index":0.03},{"media":"ESP_mundo","time":"2014-09","index":0.03},{"media":"ESP_mundo","time":"2014-10","index":0.03},{"media":"ESP_mundo","time":"2014-11","index":0.52},{"media":"ESP_mundo","time":"2014-12","index":0.08},{"media":"ESP_mundo","time":"2015-01","index":0.9},{"media":"ESP_mundo","time":"2015-02","index":0.62},{"media":"ESP_mundo","time":"2015-03","index":0.62},{"media":"ESP_mundo","time":"2015-04","index":0.85},{"media":"ESP_mundo","time":"2015-05","index":0.53},{"media":"ESP_mundo","time":"2015-06","index":0.13},{"media":"ESP_mundo","time":"2015-07","index":0.85},{"media":"ESP_mundo","time":"2015-08","index":0.83},{"media":"ESP_mundo","time":"2015-09","index":0.88},{"media":"ESP_mundo","time":"2015-10","index":0.53},{"media":"ESP_mundo","time":"2015-11","index":0.2},{"media":"ESP_mundo","time":"2015-12","index":0.65},{"media":"ESP_mundo","time":"2016-01","index":0.03},{"media":"ESP_mundo","time":"2016-02","index":0.03},{"media":"ESP_mundo","time":"2016-03","index":0.28},{"media":"ESP_mundo","time":"2016-04","index":0.6},{"media":"ESP_mundo","time":"2016-05","index":0.78},{"media":"ESP_mundo","time":"2016-06","index":0.3},{"media":"ESP_mundo","time":"2016-07","index":0.1},{"media":"ESP_mundo","time":"2016-08","index":0.52},{"media":"ESP_mundo","time":"2016-09","index":0.72},{"media":"ESP_mundo","time":"2016-10","index":0.82},{"media":"ESP_mundo","time":"2016-11","index":0.58},{"media":"ESP_mundo","time":"2016-12","index":0.82},{"media":"ESP_mundo","time":"2017-01","index":0.9},{"media":"ESP_mundo","time":"2017-02","index":0.8},{"media":"ESP_mundo","time":"2017-03","index":0.88},{"media":"ESP_mundo","time":"2017-04","index":0.52},{"media":"ESP_mundo","time":"2017-05","index":0.72},{"media":"ESP_mundo","time":"2017-06","index":0.44},{"media":"ESP_mundo","time":"2017-07","index":0.72},{"media":"ESP_mundo","time":"2017-08","index":0.82},{"media":"ESP_mundo","time":"2017-09","index":0.82},{"media":"ESP_mundo","time":"2017-10","index":0.88},{"media":"ESP_mundo","time":"2017-11","index":0.82},{"media":"ESP_mundo","time":"2017-12","index":0.65},{"media":"ESP_mundo","time":"2018-01","index":0.72},{"media":"ESP_mundo","time":"2018-02","index":0.66},{"media":"ESP_mundo","time":"2018-03","index":0.66},{"media":"ESP_mundo","time":"2018-04","index":0.88},{"media":"ESP_mundo","time":"2018-05","index":0.5},{"media":"ESP_mundo","time":"2018-06","index":0.9},{"media":"ESP_mundo","time":"2018-07","index":0.9},{"media":"ESP_mundo","time":"2018-08","index":0.83},{"media":"ESP_mundo","time":"2018-09","index":0.85},{"media":"ESP_mundo","time":"2018-10","index":0.88},{"media":"ESP_mundo","time":"2018-11","index":0.53},{"media":"ESP_mundo","time":"2018-12","index":0.62},{"media":"ESP_mundo","time":"2019-01","index":0.62},{"media":"ESP_mundo","time":"2019-02","index":0.77},{"media":"ESP_mundo","time":"2019-03","index":0.77},{"media":"ESP_mundo","time":"2019-04","index":0.9},{"media":"ESP_mundo","time":"2019-05","index":0.64},{"media":"ESP_mundo","time":"2019-06","index":0.82},{"media":"ESP_mundo","time":"2019-07","index":0.7},{"media":"ESP_mundo","time":"2019-08","index":0.82},
{"media":"ESP_abcxx","time":"2013-07","index":1},{"media":"ESP_abcxx","time":"2013-08","index":1},{"media":"ESP_abcxx","time":"2013-09","index":1},{"media":"ESP_abcxx","time":"2013-10","index":1},{"media":"ESP_abcxx","time":"2013-11","index":1},{"media":"ESP_abcxx","time":"2013-12","index":1},{"media":"ESP_abcxx","time":"2014-01","index":1},{"media":"ESP_abcxx","time":"2014-02","index":1},{"media":"ESP_abcxx","time":"2014-03","index":1},{"media":"ESP_abcxx","time":"2014-04","index":1},{"media":"ESP_abcxx","time":"2014-05","index":1},{"media":"ESP_abcxx","time":"2014-06","index":1},{"media":"ESP_abcxx","time":"2014-07","index":1},{"media":"ESP_abcxx","time":"2014-08","index":0.03},{"media":"ESP_abcxx","time":"2014-09","index":0.03},{"media":"ESP_abcxx","time":"2014-10","index":0.03},{"media":"ESP_abcxx","time":"2014-11","index":0.43},{"media":"ESP_abcxx","time":"2014-12","index":1},{"media":"ESP_abcxx","time":"2015-01","index":1},{"media":"ESP_abcxx","time":"2015-02","index":1},{"media":"ESP_abcxx","time":"2015-03","index":1},{"media":"ESP_abcxx","time":"2015-04","index":1},{"media":"ESP_abcxx","time":"2015-05","index":1},{"media":"ESP_abcxx","time":"2015-06","index":1},{"media":"ESP_abcxx","time":"2015-07","index":1},{"media":"ESP_abcxx","time":"2015-08","index":1},{"media":"ESP_abcxx","time":"2015-09","index":1},{"media":"ESP_abcxx","time":"2015-10","index":1},{"media":"ESP_abcxx","time":"2015-11","index":1},{"media":"ESP_abcxx","time":"2015-12","index":1},{"media":"ESP_abcxx","time":"2016-01","index":0.7},{"media":"ESP_abcxx","time":"2016-02","index":0.37},{"media":"ESP_abcxx","time":"2016-03","index":1},{"media":"ESP_abcxx","time":"2016-04","index":1},{"media":"ESP_abcxx","time":"2016-05","index":1},{"media":"ESP_abcxx","time":"2016-06","index":1},{"media":"ESP_abcxx","time":"2016-07","index":1},{"media":"ESP_abcxx","time":"2016-08","index":1},{"media":"ESP_abcxx","time":"2016-09","index":1},{"media":"ESP_abcxx","time":"2016-10","index":1},{"media":"ESP_abcxx","time":"2016-11","index":1},{"media":"ESP_abcxx","time":"2016-12","index":1},{"media":"ESP_abcxx","time":"2017-01","index":1},{"media":"ESP_abcxx","time":"2017-02","index":1},{"media":"ESP_abcxx","time":"2017-03","index":1},{"media":"ESP_abcxx","time":"2017-04","index":1},{"media":"ESP_abcxx","time":"2017-05","index":1},{"media":"ESP_abcxx","time":"2017-06","index":1},{"media":"ESP_abcxx","time":"2017-07","index":1},{"media":"ESP_abcxx","time":"2017-08","index":1},{"media":"ESP_abcxx","time":"2017-09","index":1},{"media":"ESP_abcxx","time":"2017-10","index":1},{"media":"ESP_abcxx","time":"2017-11","index":1},{"media":"ESP_abcxx","time":"2017-12","index":1},{"media":"ESP_abcxx","time":"2018-01","index":1},{"media":"ESP_abcxx","time":"2018-02","index":1},{"media":"ESP_abcxx","time":"2018-03","index":1},{"media":"ESP_abcxx","time":"2018-04","index":1},{"media":"ESP_abcxx","time":"2018-05","index":1},{"media":"ESP_abcxx","time":"2018-06","index":1},{"media":"ESP_abcxx","time":"2018-07","index":1},{"media":"ESP_abcxx","time":"2018-08","index":1},{"media":"ESP_abcxx","time":"2018-09","index":1},{"media":"ESP_abcxx","time":"2018-10","index":1},{"media":"ESP_abcxx","time":"2018-11","index":1},{"media":"ESP_abcxx","time":"2018-12","index":1},{"media":"ESP_abcxx","time":"2019-01","index":1},{"media":"ESP_abcxx","time":"2019-02","index":1},{"media":"ESP_abcxx","time":"2019-03","index":1},{"media":"ESP_abcxx","time":"2019-04","index":1},{"media":"ESP_abcxx","time":"2019-05","index":1},{"media":"ESP_abcxx","time":"2019-06","index":1},{"media":"ESP_abcxx","time":"2019-07","index":1},{"media":"ESP_abcxx","time":"2019-08","index":1},{"media":"ESP_abcxx","time":"2019-09","index":1},{"media":"ESP_abcxx","time":"2019-10","index":1},{"media":"ESP_abcxx","time":"2019-11","index":1},{"media":"ESP_abcxx","time":"2019-12","index":1},{"media":"ESP_abcxx","time":"2020-01","index":0},{"media":"ESP_abcxx","time":"2020-02","index":0},{"media":"ESP_abcxx","time":"2020-03","index":0},{"media":"ESP_abcxx","time":"2020-04","index":0},{"media":"ESP_abcxx","time":"2020-05","index":0},{"media":"ESP_abcxx","time":"2020-06","index":0},
{"media":"DEU_tagsp","time":"2013-07","index":0.93},{"media":"DEU_tagsp","time":"2013-08","index":0.9},{"media":"DEU_tagsp","time":"2013-09","index":0.85},{"media":"DEU_tagsp","time":"2013-10","index":0.65},{"media":"DEU_tagsp","time":"2013-11","index":0.85},{"media":"DEU_tagsp","time":"2013-12","index":0.53},{"media":"DEU_tagsp","time":"2014-01","index":0.8},{"media":"DEU_tagsp","time":"2014-02","index":0.93},{"media":"DEU_tagsp","time":"2014-03","index":0.53},{"media":"DEU_tagsp","time":"2014-04","index":0.85},{"media":"DEU_tagsp","time":"2014-05","index":0.92},{"media":"DEU_tagsp","time":"2014-06","index":0.95},{"media":"DEU_tagsp","time":"2014-07","index":0.78},{"media":"DEU_tagsp","time":"2014-08","index":0.03},{"media":"DEU_tagsp","time":"2014-09","index":0.03},{"media":"DEU_tagsp","time":"2014-10","index":0.03},{"media":"DEU_tagsp","time":"2014-11","index":0.22},{"media":"DEU_tagsp","time":"2014-12","index":0.12},{"media":"DEU_tagsp","time":"2015-01","index":0.3},{"media":"DEU_tagsp","time":"2015-02","index":0.82},{"media":"DEU_tagsp","time":"2015-03","index":0.1},{"media":"DEU_tagsp","time":"2015-04","index":0.75},{"media":"DEU_tagsp","time":"2015-05","index":0.75},{"media":"DEU_tagsp","time":"2015-06","index":0.9},{"media":"DEU_tagsp","time":"2015-07","index":0.42},{"media":"DEU_tagsp","time":"2015-08","index":0.88},{"media":"DEU_tagsp","time":"2015-09","index":0.72},{"media":"DEU_tagsp","time":"2015-10","index":0.93},{"media":"DEU_tagsp","time":"2015-11","index":0.88},{"media":"DEU_tagsp","time":"2015-12","index":0.8},{"media":"DEU_tagsp","time":"2016-01","index":0.88},{"media":"DEU_tagsp","time":"2016-02","index":0.52},{"media":"DEU_tagsp","time":"2016-03","index":0.44},{"media":"DEU_tagsp","time":"2016-04","index":0.78},{"media":"DEU_tagsp","time":"2016-05","index":0.4},{"media":"DEU_tagsp","time":"2016-06","index":0.9},{"media":"DEU_tagsp","time":"2016-07","index":0.9},{"media":"DEU_tagsp","time":"2016-08","index":0.85},{"media":"DEU_tagsp","time":"2016-09","index":0.85},{"media":"DEU_tagsp","time":"2016-10","index":0.9},{"media":"DEU_tagsp","time":"2016-11","index":0.72},{"media":"DEU_tagsp","time":"2016-12","index":0.9},{"media":"DEU_tagsp","time":"2017-01","index":0.88},{"media":"DEU_tagsp","time":"2017-02","index":0.88},{"media":"DEU_tagsp","time":"2017-03","index":0.88},{"media":"DEU_tagsp","time":"2017-04","index":0.88},{"media":"DEU_tagsp","time":"2017-05","index":0.82},{"media":"DEU_tagsp","time":"2017-06","index":0.88},{"media":"DEU_tagsp","time":"2017-07","index":0.92},{"media":"DEU_tagsp","time":"2017-08","index":0.87},{"media":"DEU_tagsp","time":"2017-09","index":0.87},{"media":"DEU_tagsp","time":"2017-10","index":0.9},{"media":"DEU_tagsp","time":"2017-11","index":0.87},{"media":"DEU_tagsp","time":"2017-12","index":0.87},{"media":"DEU_tagsp","time":"2018-01","index":0.9},{"media":"DEU_tagsp","time":"2018-02","index":0.75},{"media":"DEU_tagsp","time":"2018-03","index":0.9},{"media":"DEU_tagsp","time":"2018-04","index":0.85},{"media":"DEU_tagsp","time":"2018-05","index":0.1},{"media":"DEU_tagsp","time":"2018-06","index":0.93},{"media":"DEU_tagsp","time":"2018-07","index":0.93},{"media":"DEU_tagsp","time":"2018-08","index":0.72},{"media":"DEU_tagsp","time":"2018-09","index":0.87},{"media":"DEU_tagsp","time":"2018-10","index":0.87},{"media":"DEU_tagsp","time":"2018-11","index":0.45},{"media":"DEU_tagsp","time":"2018-12","index":0.88},{"media":"DEU_tagsp","time":"2019-01","index":0.88},{"media":"DEU_tagsp","time":"2019-02","index":0.88},{"media":"DEU_tagsp","time":"2019-03","index":0.88},{"media":"DEU_tagsp","time":"2019-04","index":0.82},{"media":"DEU_tagsp","time":"2019-05","index":0.88},{"media":"DEU_tagsp","time":"2019-06","index":0.72},{"media":"DEU_tagsp","time":"2019-07","index":0.93},{"media":"DEU_tagsp","time":"2019-08","index":0.72},{"media":"DEU_tagsp","time":"2019-09","index":0.92},{"media":"DEU_tagsp","time":"2019-10","index":0.9},{"media":"DEU_tagsp","time":"2019-11","index":0.9},{"media":"DEU_tagsp","time":"2019-12","index":0.88},{"media":"DEU_tagsp","time":"2020-01","index":0},{"media":"DEU_tagsp","time":"2020-02","index":0},{"media":"DEU_tagsp","time":"2020-03","index":0},{"media":"DEU_tagsp","time":"2020-04","index":0},{"media":"DEU_tagsp","time":"2020-05","index":0},{"media":"DEU_tagsp","time":"2020-06","index":0},
{"media":"DEU_sudde","time":"2013-07","index":0.93},{"media":"DEU_sudde","time":"2013-08","index":0.78},{"media":"DEU_sudde","time":"2013-09","index":0.95},{"media":"DEU_sudde","time":"2013-10","index":0.9},{"media":"DEU_sudde","time":"2013-11","index":0.9},{"media":"DEU_sudde","time":"2013-12","index":0.9},{"media":"DEU_sudde","time":"2014-01","index":0.9},{"media":"DEU_sudde","time":"2014-02","index":0.9},{"media":"DEU_sudde","time":"2014-03","index":0.57},{"media":"DEU_sudde","time":"2014-04","index":0.9},{"media":"DEU_sudde","time":"2014-05","index":0.9},{"media":"DEU_sudde","time":"2014-06","index":0.9},{"media":"DEU_sudde","time":"2014-07","index":0.4},{"media":"DEU_sudde","time":"2014-08","index":0.03},{"media":"DEU_sudde","time":"2014-09","index":0.03},{"media":"DEU_sudde","time":"2014-10","index":0.03},{"media":"DEU_sudde","time":"2014-11","index":0.15},{"media":"DEU_sudde","time":"2014-12","index":0.52},{"media":"DEU_sudde","time":"2015-01","index":0.7},{"media":"DEU_sudde","time":"2015-02","index":0.82},{"media":"DEU_sudde","time":"2015-03","index":0.65},{"media":"DEU_sudde","time":"2015-04","index":0.95},{"media":"DEU_sudde","time":"2015-05","index":0.88},{"media":"DEU_sudde","time":"2015-06","index":0.88},{"media":"DEU_sudde","time":"2015-07","index":0.9},{"media":"DEU_sudde","time":"2015-08","index":0.93},{"media":"DEU_sudde","time":"2015-09","index":0.88},{"media":"DEU_sudde","time":"2015-10","index":0.85},{"media":"DEU_sudde","time":"2015-11","index":0.92},{"media":"DEU_sudde","time":"2015-12","index":0.95},{"media":"DEU_sudde","time":"2016-01","index":0.42},{"media":"DEU_sudde","time":"2016-02","index":0.05},{"media":"DEU_sudde","time":"2016-03","index":0.83},{"media":"DEU_sudde","time":"2016-04","index":0.72},{"media":"DEU_sudde","time":"2016-05","index":0.5},{"media":"DEU_sudde","time":"2016-06","index":0.8},{"media":"DEU_sudde","time":"2016-07","index":0.5},{"media":"DEU_sudde","time":"2016-08","index":0.88},{"media":"DEU_sudde","time":"2016-09","index":0.65},{"media":"DEU_sudde","time":"2016-10","index":0.9},{"media":"DEU_sudde","time":"2016-11","index":0.82},{"media":"DEU_sudde","time":"2016-12","index":0.9},{"media":"DEU_sudde","time":"2017-01","index":0.9},{"media":"DEU_sudde","time":"2017-02","index":0.9},{"media":"DEU_sudde","time":"2017-03","index":0.9},{"media":"DEU_sudde","time":"2017-04","index":0.9},{"media":"DEU_sudde","time":"2017-05","index":0.72},{"media":"DEU_sudde","time":"2017-06","index":0.9},{"media":"DEU_sudde","time":"2017-07","index":0.9},{"media":"DEU_sudde","time":"2017-08","index":0.78},{"media":"DEU_sudde","time":"2017-09","index":0.92},{"media":"DEU_sudde","time":"2017-10","index":0.8},{"media":"DEU_sudde","time":"2017-11","index":0.78},{"media":"DEU_sudde","time":"2017-12","index":0.88},{"media":"DEU_sudde","time":"2018-01","index":0.9},{"media":"DEU_sudde","time":"2018-02","index":0.68},{"media":"DEU_sudde","time":"2018-03","index":0.82},{"media":"DEU_sudde","time":"2018-04","index":0.87},{"media":"DEU_sudde","time":"2018-05","index":0.5},{"media":"DEU_sudde","time":"2018-06","index":0.97},{"media":"DEU_sudde","time":"2018-07","index":0.82},{"media":"DEU_sudde","time":"2018-08","index":0.68},{"media":"DEU_sudde","time":"2018-09","index":0.85},{"media":"DEU_sudde","time":"2018-10","index":0.88},{"media":"DEU_sudde","time":"2018-11","index":0.92},{"media":"DEU_sudde","time":"2018-12","index":0.72},{"media":"DEU_sudde","time":"2019-01","index":0.97},{"media":"DEU_sudde","time":"2019-02","index":0.85},{"media":"DEU_sudde","time":"2019-03","index":0.82},{"media":"DEU_sudde","time":"2019-04","index":0.62},{"media":"DEU_sudde","time":"2019-05","index":0.78},{"media":"DEU_sudde","time":"2019-06","index":0.6},{"media":"DEU_sudde","time":"2019-07","index":0.5},{"media":"DEU_sudde","time":"2019-08","index":0.62},{"media":"DEU_sudde","time":"2019-09","index":0.5},{"media":"DEU_sudde","time":"2019-10","index":0.82},{"media":"DEU_sudde","time":"2019-11","index":0.75},{"media":"DEU_sudde","time":"2019-12","index":0.82},{"media":"DEU_sudde","time":"2020-01","index":0},{"media":"DEU_sudde","time":"2020-02","index":0},{"media":"DEU_sudde","time":"2020-03","index":0},{"media":"DEU_sudde","time":"2020-05","index":0},{"media":"DEU_sudde","time":"2020-06","index":0},
{"media":"DEU_frank","time":"2013-07","index":0.98},{"media":"DEU_frank","time":"2013-08","index":0.93},{"media":"DEU_frank","time":"2013-09","index":0.95},{"media":"DEU_frank","time":"2013-10","index":0.95},{"media":"DEU_frank","time":"2013-11","index":0.95},{"media":"DEU_frank","time":"2013-12","index":0.95},{"media":"DEU_frank","time":"2014-01","index":0.95},{"media":"DEU_frank","time":"2014-02","index":0.93},{"media":"DEU_frank","time":"2014-03","index":0.92},{"media":"DEU_frank","time":"2014-04","index":0.96},{"media":"DEU_frank","time":"2014-05","index":0.98},{"media":"DEU_frank","time":"2014-06","index":0.95},{"media":"DEU_frank","time":"2014-07","index":0.85},{"media":"DEU_frank","time":"2014-08","index":0.03},{"media":"DEU_frank","time":"2014-09","index":0.03},{"media":"DEU_frank","time":"2014-10","index":0.03},{"media":"DEU_frank","time":"2014-11","index":0.52},{"media":"DEU_frank","time":"2014-12","index":0.45},{"media":"DEU_frank","time":"2015-01","index":0.82},{"media":"DEU_frank","time":"2015-02","index":0.93},{"media":"DEU_frank","time":"2015-03","index":0.88},{"media":"DEU_frank","time":"2015-04","index":0.87},{"media":"DEU_frank","time":"2015-05","index":0.96},{"media":"DEU_frank","time":"2015-06","index":0.93},{"media":"DEU_frank","time":"2015-07","index":0.93},{"media":"DEU_frank","time":"2015-08","index":0.93},{"media":"DEU_frank","time":"2015-09","index":0.93},{"media":"DEU_frank","time":"2015-10","index":0.93},{"media":"DEU_frank","time":"2015-11","index":0.93},{"media":"DEU_frank","time":"2015-12","index":0.8},{"media":"DEU_frank","time":"2016-01","index":0.05},{"media":"DEU_frank","time":"2016-02","index":0.03},{"media":"DEU_frank","time":"2016-03","index":0.9},{"media":"DEU_frank","time":"2016-04","index":0.87},{"media":"DEU_frank","time":"2016-05","index":0.87},{"media":"DEU_frank","time":"2016-06","index":0.82},{"media":"DEU_frank","time":"2016-07","index":0.98},{"media":"DEU_frank","time":"2016-08","index":0.95},{"media":"DEU_frank","time":"2016-09","index":0.87},{"media":"DEU_frank","time":"2016-10","index":0.96},{"media":"DEU_frank","time":"2016-11","index":0.93},{"media":"DEU_frank","time":"2016-12","index":0.93},{"media":"DEU_frank","time":"2017-01","index":0.92},{"media":"DEU_frank","time":"2017-02","index":0.92},{"media":"DEU_frank","time":"2017-03","index":0.96},{"media":"DEU_frank","time":"2017-04","index":0.96},{"media":"DEU_frank","time":"2017-05","index":0.96},{"media":"DEU_frank","time":"2017-06","index":0.96},{"media":"DEU_frank","time":"2017-07","index":0.97},{"media":"DEU_frank","time":"2017-08","index":0.97},{"media":"DEU_frank","time":"2017-09","index":0.96},{"media":"DEU_frank","time":"2017-10","index":0.96},{"media":"DEU_frank","time":"2017-11","index":0.96},{"media":"DEU_frank","time":"2017-12","index":0.96},{"media":"DEU_frank","time":"2018-01","index":0.82},{"media":"DEU_frank","time":"2018-02","index":0.97},{"media":"DEU_frank","time":"2018-03","index":0.97},{"media":"DEU_frank","time":"2018-04","index":0.97},{"media":"DEU_frank","time":"2018-05","index":0.8},{"media":"DEU_frank","time":"2018-06","index":0.97},{"media":"DEU_frank","time":"2018-07","index":0.92},{"media":"DEU_frank","time":"2018-08","index":0.92},{"media":"DEU_frank","time":"2018-09","index":0.95},{"media":"DEU_frank","time":"2018-10","index":0.97},{"media":"DEU_frank","time":"2018-11","index":0.85},{"media":"DEU_frank","time":"2018-12","index":0.98},{"media":"DEU_frank","time":"2019-01","index":0.98},{"media":"DEU_frank","time":"2019-02","index":0.92},{"media":"DEU_frank","time":"2019-03","index":0.92},{"media":"DEU_frank","time":"2019-04","index":0.88},{"media":"DEU_frank","time":"2019-05","index":0.75},{"media":"DEU_frank","time":"2019-06","index":0.98},{"media":"DEU_frank","time":"2019-07","index":0.87},{"media":"DEU_frank","time":"2019-08","index":0.87},{"media":"DEU_frank","time":"2019-09","index":0.98},{"media":"DEU_frank","time":"2019-10","index":0.98},{"media":"DEU_frank","time":"2019-11","index":0.98},{"media":"DEU_frank","time":"2019-12","index":0.98},{"media":"DEU_frank","time":"2020-01","index":0},{"media":"DEU_frank","time":"2020-02","index":0},{"media":"DEU_frank","time":"2020-03","index":0},{"media":"DEU_frank","time":"2020-04","index":0},{"media":"DEU_frank","time":"2020-05","index":0},{"media":"DEU_frank","time":"2020-06","index":0},
{"media":"DEU_diewe","time":"2013-07","index":1},{"media":"DEU_diewe","time":"2013-08","index":0.9},{"media":"DEU_diewe","time":"2013-09","index":0.98},{"media":"DEU_diewe","time":"2013-10","index":0.95},{"media":"DEU_diewe","time":"2013-11","index":0.98},{"media":"DEU_diewe","time":"2013-12","index":0.98},{"media":"DEU_diewe","time":"2014-01","index":0.87},{"media":"DEU_diewe","time":"2014-02","index":0.98},{"media":"DEU_diewe","time":"2014-03","index":0.85},{"media":"DEU_diewe","time":"2014-04","index":0.78},{"media":"DEU_diewe","time":"2014-05","index":1},{"media":"DEU_diewe","time":"2014-06","index":1},{"media":"DEU_diewe","time":"2014-07","index":0.03},{"media":"DEU_diewe","time":"2014-08","index":0.03},{"media":"DEU_diewe","time":"2014-09","index":0.03},{"media":"DEU_diewe","time":"2014-10","index":0.03},{"media":"DEU_diewe","time":"2014-11","index":0.1},{"media":"DEU_diewe","time":"2014-12","index":0.62},{"media":"DEU_diewe","time":"2015-01","index":0.98},{"media":"DEU_diewe","time":"2015-02","index":0.98},{"media":"DEU_diewe","time":"2015-03","index":0.62},{"media":"DEU_diewe","time":"2015-04","index":1},{"media":"DEU_diewe","time":"2015-05","index":0.78},{"media":"DEU_diewe","time":"2015-06","index":0.97},{"media":"DEU_diewe","time":"2015-07","index":0.95},{"media":"DEU_diewe","time":"2015-08","index":0.95},{"media":"DEU_diewe","time":"2015-09","index":0.95},{"media":"DEU_diewe","time":"2015-10","index":0.95},{"media":"DEU_diewe","time":"2015-11","index":0.95},{"media":"DEU_diewe","time":"2015-12","index":0.98},{"media":"DEU_diewe","time":"2016-01","index":0.82},{"media":"DEU_diewe","time":"2016-02","index":0.15},{"media":"DEU_diewe","time":"2016-03","index":0.85},{"media":"DEU_diewe","time":"2016-04","index":0.98},{"media":"DEU_diewe","time":"2016-05","index":0.98},{"media":"DEU_diewe","time":"2016-06","index":0.98},{"media":"DEU_diewe","time":"2016-07","index":0.98},{"media":"DEU_diewe","time":"2016-08","index":0.87},{"media":"DEU_diewe","time":"2016-09","index":0.96},{"media":"DEU_diewe","time":"2016-10","index":0.96},{"media":"DEU_diewe","time":"2016-11","index":0.96},{"media":"DEU_diewe","time":"2016-12","index":0.96},{"media":"DEU_diewe","time":"2017-01","index":0.97},{"media":"DEU_diewe","time":"2017-02","index":0.97},{"media":"DEU_diewe","time":"2017-03","index":0.97},{"media":"DEU_diewe","time":"2017-04","index":0.97},{"media":"DEU_diewe","time":"2017-05","index":0.97},{"media":"DEU_diewe","time":"2017-06","index":0.97},{"media":"DEU_diewe","time":"2017-07","index":0.97},{"media":"DEU_diewe","time":"2017-08","index":0.97},{"media":"DEU_diewe","time":"2017-09","index":0.97},{"media":"DEU_diewe","time":"2017-10","index":0.97},{"media":"DEU_diewe","time":"2017-11","index":0.97},{"media":"DEU_diewe","time":"2017-12","index":0.97},{"media":"DEU_diewe","time":"2018-01","index":0.97},{"media":"DEU_diewe","time":"2018-02","index":0.97},{"media":"DEU_diewe","time":"2018-03","index":0.92},{"media":"DEU_diewe","time":"2018-04","index":0.99},{"media":"DEU_diewe","time":"2018-05","index":0.72},{"media":"DEU_diewe","time":"2018-06","index":0.98},{"media":"DEU_diewe","time":"2018-07","index":0.98},{"media":"DEU_diewe","time":"2018-08","index":0.98},{"media":"DEU_diewe","time":"2018-09","index":0.98},{"media":"DEU_diewe","time":"2018-10","index":0.98},{"media":"DEU_diewe","time":"2018-11","index":0.88},{"media":"DEU_diewe","time":"2018-12","index":0.82},{"media":"DEU_diewe","time":"2019-01","index":1},{"media":"DEU_diewe","time":"2019-02","index":1},{"media":"DEU_diewe","time":"2019-03","index":0.9},{"media":"DEU_diewe","time":"2019-04","index":0.97},{"media":"DEU_diewe","time":"2019-05","index":0.97},{"media":"DEU_diewe","time":"2019-06","index":0.97},{"media":"DEU_diewe","time":"2019-07","index":0.97},{"media":"DEU_diewe","time":"2019-08","index":0.95},{"media":"DEU_diewe","time":"2019-09","index":0.95},{"media":"DEU_diewe","time":"2019-10","index":0.92},{"media":"DEU_diewe","time":"2019-11","index":0.92},{"media":"DEU_diewe","time":"2019-12","index":0.94},{"media":"DEU_diewe","time":"2020-01","index":0},{"media":"DEU_diewe","time":"2020-02","index":0},{"media":"DEU_diewe","time":"2020-03","index":0},{"media":"DEU_diewe","time":"2020-04","index":0},{"media":"DEU_diewe","time":"2020-05","index":0},{"media":"DEU_diewe","time":"2020-06","index":0}
]},"mark":{"type":"rect","width":6.9,"strokeWidth":0.5,"stroke":{"expr":"scale('color',datum.index)"}},"encoding":{"x":{"field":"time","type":"temporal","title":"time","scale":{"type":"utc","domain":["2013-06-16","2020-06-16"]},"axis":{"tickCount":{"interval":"year"},"format":"%Y","grid":false,"domain":false,"tickSize":4,"tickColor":"#444","labelFont":"Open Sans","labelFontSize":10,"labelColor":"#444","labelPadding":3,"titleFont":"Open Sans","titleFontSize":11.5,"titleFontWeight":"normal","titleColor":"#444","titlePadding":4}},"y":{"field":"media","type":"nominal","title":"media","scale":{"domain":["ITA_stamp","ITA_repub","ITA_messa","ITA_matti","GBR_indep","GBR_guard","GBR_daily","FRA_lmond","FRA_liber","FRA_lacro","FRA_figar","ESP_perca","ESP_mundo","ESP_abcxx","DEU_tagsp","DEU_sudde","DEU_frank","DEU_diewe"]},"axis":{"grid":false,"domain":false,"tickSize":4,"tickColor":"#444","labelFont":"Open Sans","labelFontSize":10,"labelColor":"#444","labelPadding":2,"titleFont":"Open Sans","titleFontSize":11,"titleFontWeight":"normal","titleColor":"#444","titleX":-49.5}},"color":{"field":"index","type":"quantitative","title":"index","scale":{"domain":[0,0.1,0.2,0.3,0.4,0.5,0.6,0.7,0.8,0.9,1],"range":["#c63b2b","#dc5c3c","#ee8a59","#f8bd74","#fee59b","#ffffd6","#e9f5f3","#c5dcea","#9dbfdc","#7095c4","#4d71ad"]},"legend":{"orient":"none","legendX":592,"legendY":7,"gradientLength":123,"gradientThickness":22,"values":[0,0.2,0.4,0.6,0.8,1],"format":"~g","titleFont":"Open Sans","titleFontSize":10.5,"titleFontWeight":"normal","titleColor":"#444","labelFont":"Open Sans","labelFontSize":10,"labelColor":"#444","gradientStrokeColor":"#444","gradientStrokeWidth":1,"titlePadding":4}}}}
